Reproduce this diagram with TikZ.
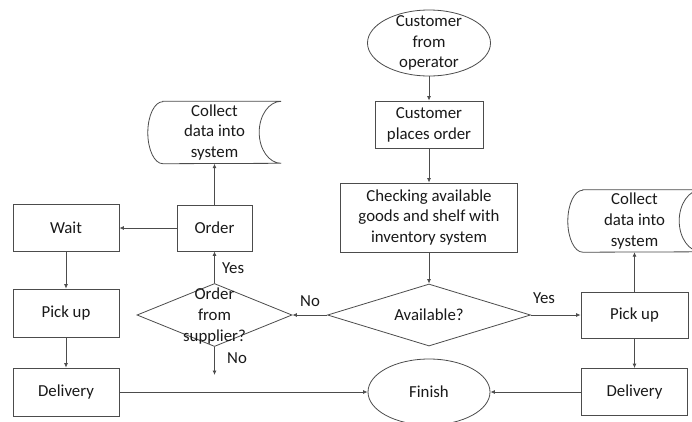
\documentclass[tikz,border=0pt]{standalone}
\usepackage{fontspec}
\setmainfont{Carlito}
\usetikzlibrary{shapes.geometric,arrows.meta}
\begin{document}
\begin{tikzpicture}[x=1pt,y=-1pt,
 base/.style={font=\fontsize{16.8}{20.8}\selectfont, text=black!90},
 box/.style={base,draw=black!70,line width=0.8pt,rectangle,inner sep=0pt,align=center},
 ell/.style={draw=black!70,line width=0.8pt,ellipse,inner sep=0pt},
 dia/.style={draw=black!70,line width=0.8pt,diamond,inner sep=0pt},
 txt/.style={base,align=center,inner sep=0pt},
 conn/.style={draw=black!70,line width=0.8pt,-{Latex[length=4.5pt,width=4pt]}},
 store/.style={draw=black!70,line width=0.8pt}
]
\useasboundingbox (0,0) rectangle (692,421);
\fill[white] (0,0) rectangle (692,421);

% center column
\node[ell, minimum width=123pt, minimum height=66pt] (cust) at (429,43) {};
\node[txt] (custt) at (429,43) {Customer\\from\\operator};
\node[box, minimum width=108pt, minimum height=47pt] (place) at (429,124.5) {Customer\\places order};
\node[box, minimum width=177pt, minimum height=69pt] (check) at (429,217.5) {Checking available\\goods and shelf with\\inventory system};
\node[dia, minimum width=203pt, minimum height=62pt] (avail) at (429,315) {};
\node[txt] (availt) at (429,315) {Available?};
\node[ell, minimum width=122pt, minimum height=66pt] (finish) at (429,392) {};
\node[txt] (finisht) at (429,392) {Finish};

% left branch
\node[dia, minimum width=155pt, minimum height=63pt] (sup) at (214.5,315) {};
\node[txt] (supt) at (214.5,316) {Order\\from\\supplier?};
\node[box, minimum width=75pt, minimum height=46pt] (order) at (214.5,228) {Order};
\node[txt, minimum width=133pt, minimum height=62pt] (c1) at (214.5,132.5) {Collect\\data into\\system};
\draw[store] ([xshift=15pt]c1.north west) -- (c1.north east)
  arc[start angle=90,end angle=270,x radius=22pt,y radius=31pt]
  -- ([xshift=15pt]c1.south west)
  arc[start angle=270,end angle=90,x radius=15pt,y radius=31pt] -- cycle;
\node[box, minimum width=106pt, minimum height=47pt] (wait) at (66,228) {Wait};
\node[box, minimum width=106pt, minimum height=48pt] (pickL) at (66,313) {Pick up};
\node[box, minimum width=106pt, minimum height=48pt] (delivL) at (66,392) {Delivery};
\coordinate (supend) at (214.5,375);

% right branch
\node[box, minimum width=107pt, minimum height=46pt] (pickR) at (634.5,315) {Pick up};
\node[box, minimum width=106pt, minimum height=47pt] (delivR) at (634.5,392) {Delivery};
\node[txt, minimum width=133pt, minimum height=62pt] (c2) at (634.5,221) {Collect\\data into\\system};
\draw[store] ([xshift=15pt]c2.north west) -- (c2.north east)
  arc[start angle=90,end angle=270,x radius=22pt,y radius=31pt]
  -- ([xshift=15pt]c2.south west)
  arc[start angle=270,end angle=90,x radius=15pt,y radius=31pt] -- cycle;

% connectors
\draw[conn] (cust.south) -- (place.north);
\draw[conn] (place.south) -- (check.north);
\draw[conn] (check.south) -- (avail.north);
\draw[conn] (avail.east) -- (pickR.west);
\draw[conn] (avail.west) -- (sup.east);
\draw[conn] (sup.north) -- (order.south);
\draw[conn] (sup.south) -- (supend);
\draw[conn] (order.west) -- (wait.east);
\draw[conn] (order.north) -- (c1.south);
\draw[conn] (wait.south) -- (pickL.north);
\draw[conn] (pickL.south) -- (delivL.north);
\draw[conn] (delivL.east) -- (finish.west);
\draw[conn] (pickR.north) -- (pickR.north |- c2.south);
\draw[conn] (pickR.south) -- (delivR.north);
\draw[conn] (delivR.west) -- (finish.east);

% labels
\node[txt, anchor=west] (lyes1) at (222,268) {Yes};
\node[txt, anchor=west] (lno1) at (227,358) {No};
\node[txt] (lno2) at (310,301) {No};
\node[txt] (lyes2) at (544,298) {Yes};
\end{tikzpicture}
\end{document}
